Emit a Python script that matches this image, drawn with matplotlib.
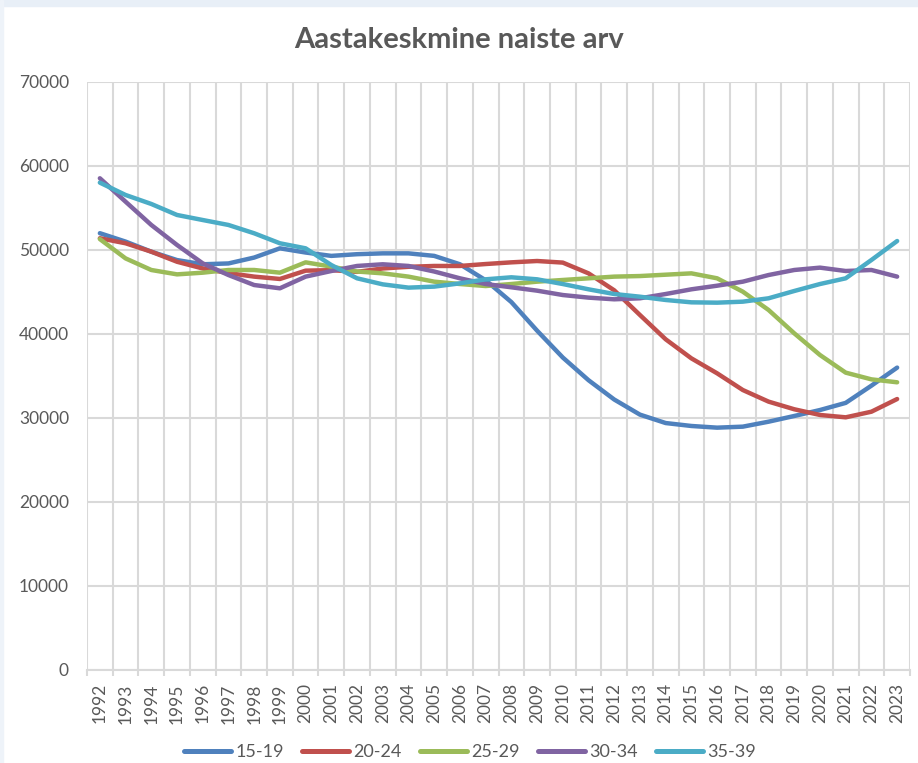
import matplotlib
matplotlib.use("Agg")
import matplotlib.pyplot as plt
from matplotlib.patches import Rectangle

plt.rcParams['font.family'] = ['Lato', 'DejaVu Sans']

years = list(range(1992, 2024))

age_15_19 = [52000, 51000, 49800, 48800, 48300, 48400, 49100, 50200, 49700, 49300,
             49500, 49600, 49600, 49300, 48300, 46400, 43800, 40400, 37200, 34500,
             32200, 30400, 29400, 29050, 28850, 28970, 29560, 30240, 30950, 31800,
             33850, 36000]
age_20_24 = [51400, 50800, 49800, 48600, 47800, 47250, 46830, 46550, 47540, 47600,
             47400, 47800, 48000, 48100, 48100, 48330, 48530, 48690, 48500, 47220,
             45200, 42260, 39370, 37100, 35320, 33330, 31950, 31040, 30360, 30080,
             30750, 32260]
age_25_29 = [51300, 49000, 47620, 47100, 47300, 47620, 47620, 47300, 48530, 48020,
             47440, 47220, 46830, 46230, 45950, 45710, 45950, 46230, 46430, 46630,
             46830, 46900, 47060, 47220, 46630, 45040, 42860, 40080, 37500, 35400,
             34600, 34250]
age_30_34 = [58540, 55750, 52980, 50600, 48410, 47020, 45830, 45440, 46830, 47500,
             48100, 48300, 48100, 47440, 46630, 45950, 45560, 45160, 44640, 44330,
             44130, 44250, 44760, 45320, 45750, 46230, 47020, 47620, 47900, 47500,
             47620, 46830]
age_35_39 = [58020, 56550, 55480, 54170, 53570, 52980, 51990, 50800, 50200, 48210,
             46630, 45910, 45520, 45640, 46030, 46510, 46750, 46510, 45950, 45320,
             44760, 44440, 44050, 43770, 43730, 43850, 44250, 45120, 45950, 46630,
             48810, 51070]

series_names = ["15-19", "20-24", "25-29", "30-34", "35-39"]
series_values = [age_15_19, age_20_24, age_25_29, age_30_34, age_35_39]
colors = ["#4F81BD", "#C0504D", "#9BBB59", "#8064A2", "#4BACC6"]

text_col = "#595959"
grid_col = "#D9D9D9"

fig = plt.figure(figsize=(9.18, 7.63), dpi=100)
# light screenshot border at the top and left edge
fig.patches.append(Rectangle((0, 1 - 6 / 763), 1, 6 / 763, transform=fig.transFigure,
                             color="#E8EFF7", zorder=0))
fig.patches.append(Rectangle((0, 0), 3 / 918, 1, transform=fig.transFigure,
                             color="#EEF3F9", zorder=0))
ax = fig.add_axes([87 / 918, 1 - 670 / 763, 823 / 918, 588 / 763])

x = list(range(len(years)))
for name, vals, c in zip(series_names, series_values, colors):
    ax.plot(x, vals, color=c, lw=3.2, label=name, solid_capstyle="round",
            solid_joinstyle="round")

ax.set_xlim(-0.5, len(years) - 0.5)
ax.set_ylim(0, 70000)
ax.set_yticks(range(0, 70001, 10000))
ax.set_yticklabels([str(v) for v in range(0, 70001, 10000)])
ax.set_xticks(x)
ax.set_xticklabels([str(y) for y in years], rotation=90)
ax.set_xticks([i - 0.5 for i in range(len(years) + 1)], minor=True)

ax.grid(axis="y", which="major", color=grid_col, lw=1.5)
ax.grid(axis="x", which="minor", color=grid_col, lw=1.5)
ax.set_axisbelow(True)
for s in ["top", "right", "left"]:
    ax.spines[s].set_visible(False)
ax.spines["bottom"].set_color(grid_col)
ax.spines["bottom"].set_linewidth(1.5)

ax.tick_params(axis="y", length=0, pad=13, labelsize=12.5, labelcolor=text_col)
ax.tick_params(axis="x", which="major", length=0, pad=9.5, labelsize=12.5,
               labelcolor=text_col)
ax.tick_params(axis="x", which="minor", length=4, width=1.5, color=grid_col)

fig.text(0.5, 1 - 40 / 763, "Aastakeskmine naiste arv", ha="center", va="center",
         fontsize=21, fontweight="bold", color=text_col)

leg = fig.legend(loc="center", bbox_to_anchor=(470 / 918, 1 - 752 / 763), ncol=5,
                 frameon=False, fontsize=13, handlelength=2.6, handletextpad=0.25,
                 columnspacing=1.0, labelcolor=text_col)
for line in leg.get_lines():
    line.set_linewidth(3.6)

fig.savefig("out.png", dpi=100, facecolor="white")
